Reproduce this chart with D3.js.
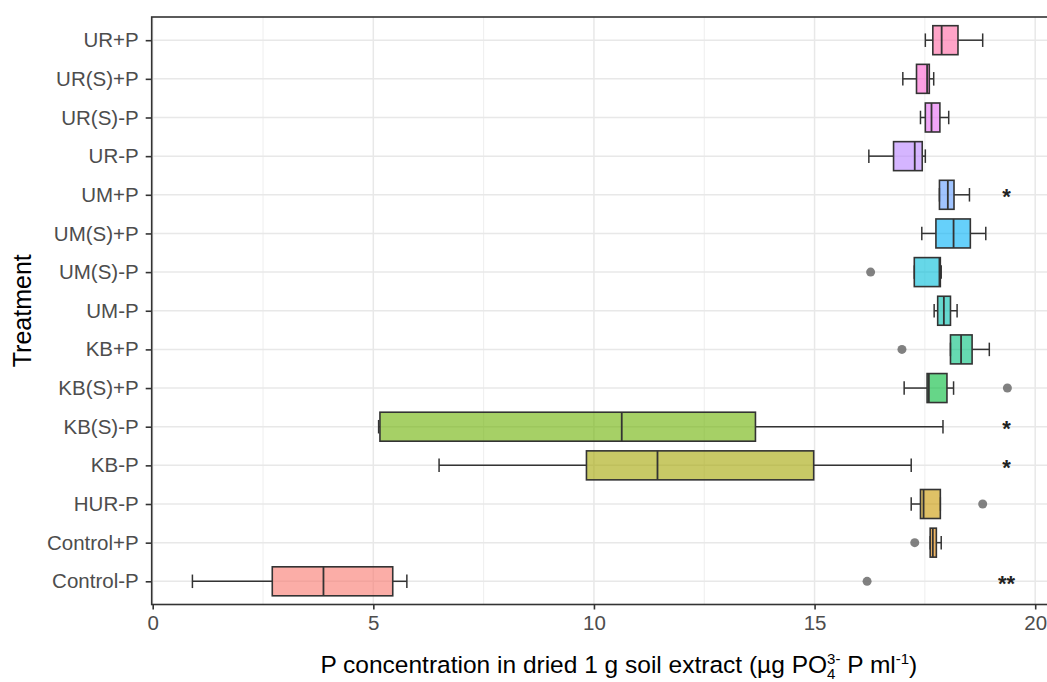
<!DOCTYPE html>
<html>
<head>
<meta charset="utf-8">
<script src="https://cdn.jsdelivr.net/npm/d3@7"></script>
<style>
  html, body { margin: 0; padding: 0; background: #fff; }
  svg { display: block; font-family: "Liberation Sans", Arial, sans-serif; }
</style>
</head>
<body>
<script>
// Treatments, listed from the bottom of the chart to the top
const categories = ["Control-P", "Control+P", "HUR-P", "KB-P", "KB(S)-P", "KB(S)+P", "KB+P",
  "UM-P", "UM(S)-P", "UM(S)+P", "UM+P", "UR-P", "UR(S)-P", "UR(S)+P", "UR+P"];

// Five-number summaries per treatment (µg PO4 3- P per ml)
const whiskerLow  = [0.90, 17.62, 17.19, 6.49, 5.12, 17.03, 18.08, 17.71, 17.26, 17.43, 17.83, 16.23, 17.40, 17.00, 17.51];
const lowerQuart  = [2.71, 17.62, 17.40, 9.83, 5.15, 17.55, 18.08, 17.79, 17.26, 17.75, 17.83, 16.79, 17.51, 17.31, 17.68];
const medians     = [3.87, 17.68, 17.47, 11.44, 10.63, 17.59, 18.32, 17.93, 17.83, 18.15, 18.02, 17.27, 17.65, 17.55, 17.88];
const upperQuart  = [5.44, 17.76, 17.85, 14.98, 13.66, 18.00, 18.57, 18.08, 17.85, 18.53, 18.16, 17.44, 17.84, 17.60, 18.25];
const whiskerHigh = [5.76, 17.87, 17.85, 17.19, 17.91, 18.15, 18.96, 18.23, 17.87, 18.88, 18.51, 17.51, 18.04, 17.70, 18.81];

// Outlying observations
const outlierTreatment = ["Control-P", "Control+P", "HUR-P", "KB+P", "KB(S)+P", "UM(S)-P"];
const outlierValue     = [16.19, 17.27, 18.81, 16.98, 19.37, 16.27];

// Significance marks
const signifTreatment = ["UM+P", "KB(S)-P", "KB-P", "Control-P"];
const signifLabel     = ["*", "*", "*", "**"];
const signifPosition  = 19.35;

// Axis ticks
const xMajorTicks = [0, 5, 10, 15, 20];
const xMinorTicks = [2.5, 7.5, 12.5, 17.5, 22.5];

// ggplot-style hue palette for 15 groups
const boxColors = ["#F8766D", "#E58700", "#C99800", "#A3A500", "#6BB100", "#00BA38", "#00BF7D",
  "#00C0AF", "#00BCD8", "#00B0F6", "#619CFF", "#B983FF", "#E76BF3", "#FD61D1", "#FF67A4"];

const W = 1047, H = 682;
const panel = { left: 151.7, top: 17, right: 1086, bottom: 604.5 };

const svg = d3.select("body").append("svg").attr("width", W).attr("height", H);

const x = d3.scaleLinear().domain([0, 20]).range([152.7, 1035.2]);
const y = d3.scalePoint().domain(categories).range([panel.bottom, panel.top]).padding(0.6);
const step = y.step();

const boxes = categories.map((c, i) => ({
  name: c, lo: whiskerLow[i], q1: lowerQuart[i], med: medians[i],
  q3: upperQuart[i], hi: whiskerHigh[i], color: boxColors[i]
}));

// panel background
svg.append("rect")
  .attr("x", panel.left).attr("y", panel.top)
  .attr("width", panel.right - panel.left).attr("height", panel.bottom - panel.top)
  .attr("fill", "#fff");

const grid = svg.append("g");
grid.selectAll("line.minor").data(xMinorTicks).join("line")
  .attr("x1", d => x(d)).attr("x2", d => x(d))
  .attr("y1", panel.top).attr("y2", panel.bottom)
  .attr("stroke", "#EEEEEE").attr("stroke-width", 1);
grid.selectAll("line.majorx").data(xMajorTicks).join("line")
  .attr("x1", d => x(d)).attr("x2", d => x(d))
  .attr("y1", panel.top).attr("y2", panel.bottom)
  .attr("stroke", "#E8E8E8").attr("stroke-width", 1.5);
grid.selectAll("line.majory").data(categories).join("line")
  .attr("x1", panel.left).attr("x2", panel.right)
  .attr("y1", d => y(d)).attr("y2", d => y(d))
  .attr("stroke", "#E8E8E8").attr("stroke-width", 1.5);

const ink = "#333333";
const boxG = svg.append("g");
const bx = boxG.selectAll("g").data(boxes).join("g");

// whisker stems
bx.append("line")
  .attr("x1", d => x(d.lo)).attr("x2", d => x(d.q1))
  .attr("y1", d => y(d.name)).attr("y2", d => y(d.name))
  .attr("stroke", ink).attr("stroke-width", 1.5);
bx.append("line")
  .attr("x1", d => x(d.q3)).attr("x2", d => x(d.hi))
  .attr("y1", d => y(d.name)).attr("y2", d => y(d.name))
  .attr("stroke", ink).attr("stroke-width", 1.5);
// whisker caps
const capH = step * 0.35;
bx.append("line")
  .attr("x1", d => x(d.lo)).attr("x2", d => x(d.lo))
  .attr("y1", d => y(d.name) - capH / 2).attr("y2", d => y(d.name) + capH / 2)
  .attr("stroke", ink).attr("stroke-width", 1.5);
bx.append("line")
  .attr("x1", d => x(d.hi)).attr("x2", d => x(d.hi))
  .attr("y1", d => y(d.name) - capH / 2).attr("y2", d => y(d.name) + capH / 2)
  .attr("stroke", ink).attr("stroke-width", 1.5);
// boxes
const boxH = step * 0.75;
bx.append("rect")
  .attr("x", d => x(d.q1)).attr("width", d => x(d.q3) - x(d.q1))
  .attr("y", d => y(d.name) - boxH / 2).attr("height", boxH)
  .attr("fill", d => d.color).attr("fill-opacity", 0.6)
  .attr("stroke", ink).attr("stroke-width", 1.6);
// medians
bx.append("line")
  .attr("x1", d => x(d.med)).attr("x2", d => x(d.med))
  .attr("y1", d => y(d.name) - boxH / 2).attr("y2", d => y(d.name) + boxH / 2)
  .attr("stroke", ink).attr("stroke-width", 1.8);

// outliers
svg.append("g").selectAll("circle").data(outlierTreatment.map((t, i) => ({ t, v: outlierValue[i] })))
  .join("circle")
  .attr("cx", d => x(d.v)).attr("cy", d => y(d.t)).attr("r", 4.5)
  .attr("fill", "#6b6b6b").attr("fill-opacity", 0.85);

// significance asterisks
const starSize = 22;
svg.append("g").selectAll("text").data(signifTreatment.map((t, i) => ({ t, s: signifLabel[i] })))
  .join("text")
  .attr("x", x(signifPosition))
  .attr("y", d => y(d.t) - 3 + starSize * 0.575)
  .attr("text-anchor", "middle")
  .attr("font-size", starSize)
  .attr("font-weight", "bold")
  .attr("fill", "#222")
  .text(d => d.s);

// panel border
svg.append("rect")
  .attr("x", panel.left).attr("y", panel.top)
  .attr("width", panel.right - panel.left).attr("height", panel.bottom - panel.top)
  .attr("fill", "none").attr("stroke", "#333").attr("stroke-width", 1.6);

// axes
const tickFont = 20.5;
const xAxis = svg.append("g").attr("transform", `translate(0,${panel.bottom})`)
  .call(d3.axisBottom(x).tickValues(xMajorTicks).tickSize(5).tickPadding(6).tickFormat(d3.format("d")));
xAxis.select(".domain").remove();
xAxis.selectAll(".tick line").attr("stroke", "#333").attr("stroke-width", 1.6);
xAxis.selectAll(".tick text").attr("font-size", tickFont).attr("fill", "#4D4D4D")
  .attr("font-family", "Liberation Sans, Arial, sans-serif");

const yAxis = svg.append("g").attr("transform", `translate(${panel.left},0)`)
  .call(d3.axisLeft(y).tickSize(6).tickPadding(7));
yAxis.select(".domain").remove();
yAxis.selectAll(".tick line").attr("stroke", "#333").attr("stroke-width", 1.6);
yAxis.selectAll(".tick text").attr("font-size", tickFont).attr("fill", "#4D4D4D")
  .attr("font-family", "Liberation Sans, Arial, sans-serif");

// axis titles
const titleFont = 25;
svg.append("text")
  .attr("transform", `translate(31,${(panel.top + panel.bottom) / 2}) rotate(-90)`)
  .attr("text-anchor", "middle")
  .attr("font-size", titleFont)
  .attr("fill", "#000")
  .text("Treatment");

const xt = svg.append("text")
  .attr("x", (panel.left + panel.right) / 2)
  .attr("y", 673)
  .attr("text-anchor", "middle")
  .attr("font-size", 24.5)
  .attr("fill", "#000");
const smallFont = 15;
// measure small script widths for stacking the PO4 super/subscript
function measure(str, size) {
  const t = svg.append("text").attr("font-size", size).text(str);
  const w = t.node().getComputedTextLength();
  t.remove();
  return w;
}
const supW = measure("3-", smallFont);
const subW = measure("4", smallFont);
xt.append("tspan").text("P concentration in dried 1 g soil extract (\u00B5g PO");
xt.append("tspan").attr("font-size", smallFont).attr("dy", -9).text("3-");
xt.append("tspan").attr("font-size", smallFont).attr("dx", -supW).attr("dy", 15).text("4");
xt.append("tspan").attr("dx", supW - subW).attr("dy", -6).text(" P ml");
xt.append("tspan").attr("font-size", smallFont).attr("dy", -9).text("-1");
xt.append("tspan").attr("dy", 9).text(")");
</script>
</body>
</html>
